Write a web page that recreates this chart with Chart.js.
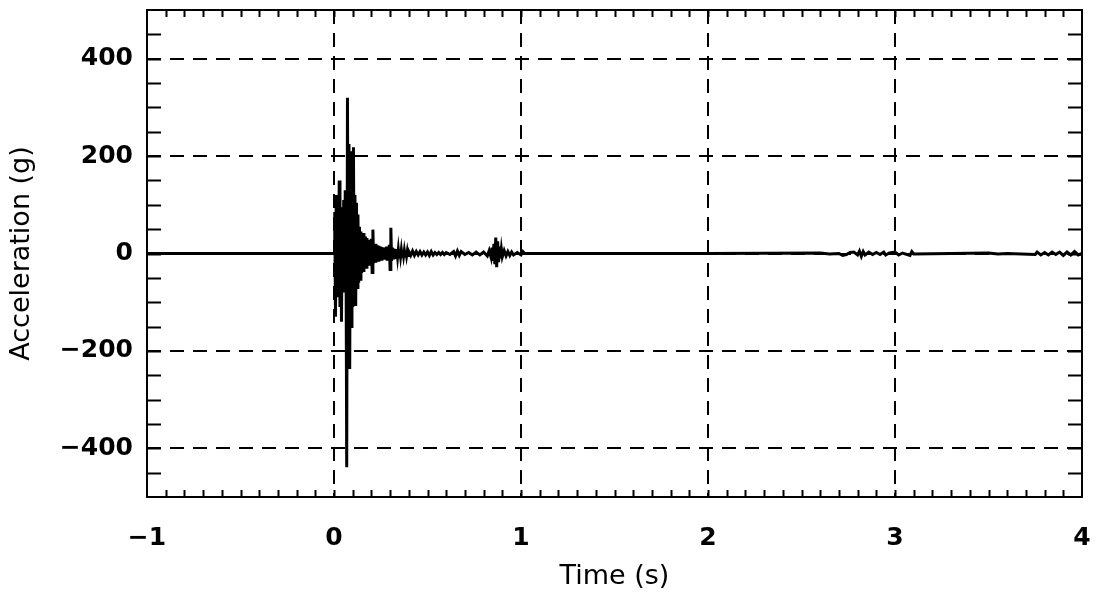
<!DOCTYPE html>
<html>
<head>
<meta charset="utf-8">
<script src="https://cdn.jsdelivr.net/npm/chart.js@4/dist/chart.umd.min.js"></script>
<style>
  body { margin: 0; background: #fff; }
  canvas { display: block; }
</style>
</head>
<body>
<canvas id="myChart" width="1096" height="599"></canvas>
<script>
// time (s) and acceleration (g)
var timeS = [
  -1, 0,
  0.004, 0.008, 0.012, 0.016, 0.020, 0.024, 0.028, 0.032, 0.036, 0.040,
  0.044, 0.048, 0.052, 0.056, 0.060, 0.064, 0.068, 0.072, 0.076, 0.080,
  0.084, 0.088, 0.092, 0.096, 0.100, 0.104, 0.108, 0.112, 0.116, 0.120,
  0.124, 0.128, 0.132, 0.136, 0.140, 0.144, 0.148, 0.152, 0.156, 0.160,
  0.164, 0.168, 0.172, 0.176, 0.180, 0.184, 0.188, 0.192, 0.196, 0.200,
  0.204, 0.208, 0.212, 0.216, 0.220, 0.224, 0.228, 0.232, 0.236, 0.240,
  0.244, 0.248, 0.252, 0.256, 0.260, 0.264, 0.268, 0.272, 0.276, 0.280,
  0.284, 0.288, 0.292, 0.296, 0.300, 0.304, 0.308, 0.312, 0.316, 0.320,
  0.324, 0.328, 0.332, 0.336, 0.340, 0.344, 0.348, 0.352, 0.356, 0.360,
  0.364, 0.368, 0.372, 0.376, 0.380, 0.384, 0.388, 0.392, 0.396, 0.400,
  0.41, 0.42, 0.43, 0.44, 0.45, 0.46, 0.47, 0.48, 0.49, 0.50,
  0.51, 0.52, 0.53, 0.54, 0.55, 0.56, 0.57, 0.58, 0.59, 0.60,
  0.62, 0.64, 0.65, 0.66, 0.67, 0.68, 0.70, 0.72, 0.74, 0.76,
  0.78, 0.80, 0.82, 0.83, 0.84, 0.845, 0.85, 0.855, 0.86, 0.865,
  0.87, 0.875, 0.88, 0.885, 0.89, 0.895, 0.90, 0.91, 0.92, 0.93,
  0.94, 0.95, 0.96, 0.98, 1.00, 1.01, 1.02, 1.5, 2.0, 2.6,
  2.65, 2.7, 2.72, 2.74, 2.76, 2.78, 2.8, 2.81, 2.82, 2.83,
  2.84, 2.86, 2.88, 2.9, 2.92, 2.94, 2.95, 2.97, 3.0, 3.02,
  3.04, 3.08, 3.09, 3.1, 3.3, 3.5, 3.55, 3.6, 3.75, 3.76,
  3.78, 3.8, 3.82, 3.84, 3.86, 3.88, 3.9, 3.92, 3.94, 3.96,
  3.98, 4.0
];
var accelG = [
  0, 0,
  85, -130, 120, -90, 105, -60, 150, -110, 95, -140,
  70, -75, 110, -80, 130, 60, -439, 320, -180, 225,
  -237, 210, -150, 175, -110, 218, -95, 120, -108, 104,
  -70, 80, -60, 55, -53, 45, -40, 40, -35, 42,
  -30, 35, -28, 32, -25, 28, -22, 24, -20, 30,
  -39, 49, -20, 18, -16, 20, -15, 17, -14, 16,
  -13, 14, -12, 13, -11, 12, -10, 11, -10, 14,
  -12, 12, -10, 18, -33, 53, -15, 12, -9, 10,
  -8, 9, -8, 8, -7, 8, -7, 7, -6, 7,
  -6, 6, -5, 6, -5, 5, -5, 5, -4, 4,
  -4, 5, -4, 4, -3, 4, -3, 3, -3, 3,
  -4, 4, -3, 2, -2, 2, -2, 2, -2, 2,
  -2, 4, -5, 5, -4, 4, -2, 2, -3, 3,
  -3, 3, -5, 6, -8, 12, -15, 20, -22, 33,
  -28, 25, -18, 14, -10, 9, -7, 6, -5, 4,
  -4, 3, -3, 2, -3, 4, 0, 0, 0, 1,
  -1, 0, -4, -2, 2, 3, -3, 5, -6, 4,
  -3, 3, -2, 2, -2, 3, -3, 1, 3, -3,
  1, -4, 4, -1, 0, 1, -1, 0, -2, 3,
  -3, 2, -3, 3, -2, 3, -4, 3, -3, 4,
  -3, 0
];
var xTickValues = [-1, 0, 1, 2, 3, 4];
var yTickValues = [-400, -200, 0, 200, 400];

var points = timeS.map(function (t, i) { return { x: t, y: accelG[i] }; });

function fmt(v) {
  return v < 0 ? '\u2212' + Math.abs(v) : String(v);
}

// frame + inward minor ticks on all four sides
var frameTicks = {
  id: 'frameTicks',
  afterDatasetsDraw: function (chart) {
    var c = chart.ctx, a = chart.chartArea;
    var xs = chart.scales.x, ys = chart.scales.y;
    c.save();
    c.strokeStyle = '#000';
    c.lineWidth = 2;
    c.beginPath();
    for (var k = -9; k < 40; k++) {
      var px = Math.round(xs.getPixelForValue(k / 10)) + 0.5;
      c.moveTo(px, a.bottom); c.lineTo(px, a.bottom - 7);
      c.moveTo(px, a.top); c.lineTo(px, a.top + 7);
    }
    for (var v = -450; v <= 450; v += 50) {
      var py = Math.round(ys.getPixelForValue(v)) + 0.5;
      c.moveTo(a.left, py); c.lineTo(a.left + 14, py);
      c.moveTo(a.right, py); c.lineTo(a.right - 14, py);
    }
    c.stroke();
    c.strokeRect(a.left, a.top, a.right - a.left, a.bottom - a.top);
    c.restore();
  }
};

var ctx = document.getElementById('myChart');
var chart = new Chart(ctx, {
  type: 'line',
  data: {
    datasets: [{
      data: points,
      borderColor: '#000',
      borderWidth: 3,
      pointRadius: 0,
      tension: 0
    }]
  },
  options: {
    responsive: false,
    animation: false,
    layout: { padding: { left: 0, right: 14, top: 10, bottom: 0 } },
    plugins: { legend: { display: false }, tooltip: { enabled: false } },
    scales: {
      x: {
        type: 'linear',
        min: -1,
        max: 4,
        afterBuildTicks: function (s) { s.ticks = xTickValues.map(function (v) { return { value: v }; }); },
        afterFit: function (s) { s.height = 102; s.paddingLeft = 0; s.paddingRight = 0; },
        grid: { color: '#000', lineWidth: 2, drawTicks: false },
        border: { display: false, dash: [14, 9] },
        ticks: {
          color: '#000',
          padding: 26,
          maxRotation: 0,
          font: { family: 'DejaVu Sans', size: 25, weight: 'bold' },
          callback: function (v) { return fmt(v); }
        },
        title: {
          display: true,
          text: 'Time (s)',
          color: '#000',
          padding: { top: 0, bottom: 6 },
          font: { family: 'DejaVu Sans', size: 27 }
        }
      },
      y: {
        min: -500,
        max: 500,
        afterBuildTicks: function (s) { s.ticks = yTickValues.map(function (v) { return { value: v }; }); },
        afterFit: function (s) { s.width = 147; s.paddingTop = 0; s.paddingBottom = 0; },
        grid: { color: '#000', lineWidth: 2, drawTicks: false },
        border: { display: false, dash: [14, 9] },
        ticks: {
          color: '#000',
          padding: 14,
          font: { family: 'DejaVu Sans', size: 25, weight: 'bold' },
          callback: function (v) { return fmt(v); }
        },
        title: {
          display: true,
          text: 'Acceleration (g)',
          color: '#000',
          padding: { top: 6, bottom: 0 },
          font: { family: 'DejaVu Sans', size: 27 }
        }
      }
    }
  },
  plugins: [frameTicks]
});
</script>
</body>
</html>
